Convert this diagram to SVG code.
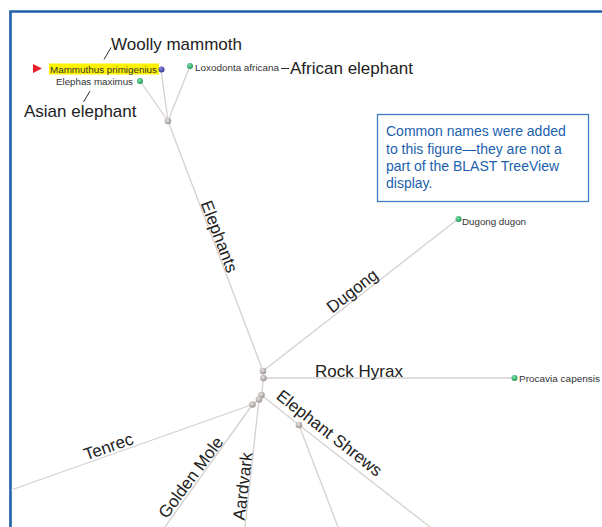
<svg xmlns="http://www.w3.org/2000/svg" width="602" height="527" viewBox="0 0 602 527">
<style>
.edge{stroke:#d6d0ce;stroke-width:1.3;fill:none}
.big{font-family:"Liberation Sans",Arial,sans-serif;font-size:17px;fill:#222}
.leaf{font-family:"Liberation Sans",Arial,sans-serif;font-size:9.7px;fill:#333}
.note{font-family:"Liberation Sans",Arial,sans-serif;font-size:14px;fill:#1b5fae}
.lead{stroke:#333;stroke-width:1}
</style>
<defs>
<radialGradient id="gGray" cx="0.4" cy="0.35" r="0.65"><stop offset="0" stop-color="#e8e4e2"/><stop offset="1" stop-color="#9a9492"/></radialGradient>
<radialGradient id="gGreen" cx="0.4" cy="0.35" r="0.65"><stop offset="0" stop-color="#7fe0a8"/><stop offset="1" stop-color="#1d9a58"/></radialGradient>
<radialGradient id="gBlue" cx="0.4" cy="0.35" r="0.65"><stop offset="0" stop-color="#8a8ae0"/><stop offset="1" stop-color="#333396"/></radialGradient>
</defs>
<rect x="0" y="0" width="602" height="527" fill="#fff"/>
<!-- frame -->
<path d="M10.5 527 V11.5 H602" fill="none" stroke="#1f5fa8" stroke-width="2.6"/>

<!-- connectors -->
<g id="connectors">
<line class="edge" x1="168" y1="121" x2="140" y2="81"/>
<line class="edge" x1="168" y1="121" x2="161" y2="70"/>
<line class="edge" x1="168" y1="121" x2="190" y2="66"/>
<line class="edge" x1="263" y1="371" x2="168" y2="121"/>
<line class="edge" x1="263" y1="371" x2="458" y2="219"/>
<line class="edge" x1="263" y1="371" x2="263.5" y2="378"/>
<line class="edge" x1="263.5" y1="378" x2="514" y2="378"/>
<line class="edge" x1="263.5" y1="378" x2="261.5" y2="395"/>
<line class="edge" x1="261.5" y1="395" x2="299" y2="425"/>
<line class="edge" x1="299" y1="425" x2="430" y2="527"/>
<line class="edge" x1="299" y1="425" x2="338" y2="527"/>
<line class="edge" x1="261.5" y1="395" x2="259" y2="399.5"/>
<line class="edge" x1="259" y1="399.5" x2="245" y2="527"/>
<line class="edge" x1="259" y1="399.5" x2="252.5" y2="404.5"/>
<line class="edge" x1="252.5" y1="404.5" x2="11" y2="490"/>
<line class="edge" x1="252.5" y1="404.5" x2="165" y2="527"/>
</g>

<!-- branch labels -->
<g id="branch-labels">
<text class="big" text-anchor="middle" transform="translate(213,239) rotate(69.2)" dy="-1">Elephants</text>
<text class="big" text-anchor="middle" transform="translate(357,297) rotate(-37.9)" dy="-2">Dugong</text>
<text class="big" text-anchor="middle" x="359" y="377">Rock Hyrax</text>
<text class="big" text-anchor="middle" transform="translate(324,440) rotate(38)" dy="-3">Elephant Shrews</text>
<text class="big" text-anchor="middle" transform="translate(111,454) rotate(-19.4)" dy="-2">Tenrec</text>
<text class="big" text-anchor="middle" transform="translate(197,482) rotate(-53.6)" dy="-2">Golden Mole</text>
<text class="big" text-anchor="middle" transform="translate(249.5,487) rotate(-83.4)" dy="-1">Aardvark</text>
</g>

<!-- internal nodes -->
<g id="node-elephant-clade"><circle cx="168" cy="121" r="3.3" fill="url(#gGray)"/></g>
<g id="node-paenungulata"><circle cx="263" cy="371" r="3.3" fill="url(#gGray)"/></g>
<g id="node-afrotheria-a"><circle cx="263.5" cy="378" r="3.3" fill="url(#gGray)"/></g>
<g id="node-afrotheria-b"><circle cx="261.5" cy="395" r="3.3" fill="url(#gGray)"/></g>
<g id="node-afrotheria-c"><circle cx="259" cy="399.5" r="3.3" fill="url(#gGray)"/></g>
<g id="node-afrotheria-d"><circle cx="252.5" cy="404.5" r="3.3" fill="url(#gGray)"/></g>
<g id="node-elephant-shrews"><circle cx="299" cy="425" r="3.3" fill="url(#gGray)"/></g>

<!-- leaves -->
<g id="leaf-mammuthus">
<polygon points="33,64 42,68.5 33,73" fill="#e8202a"/>
<rect x="49" y="63.5" width="110" height="11" fill="#fff200"/>
<text class="leaf" x="50" y="72.5" textLength="107" lengthAdjust="spacingAndGlyphs">Mammuthus primigenius</text>
<circle cx="161.5" cy="69.5" r="3" fill="url(#gBlue)"/>
</g>
<g id="leaf-elephas">
<text class="leaf" x="56" y="85" textLength="77" lengthAdjust="spacingAndGlyphs">Elephas maximus</text>
<circle cx="140" cy="81" r="3" fill="url(#gGreen)"/>
</g>
<g id="leaf-loxodonta">
<circle cx="190" cy="66" r="3" fill="url(#gGreen)"/>
<text class="leaf" x="195" y="71" textLength="84" lengthAdjust="spacingAndGlyphs">Loxodonta africana</text>
</g>
<g id="leaf-dugong">
<circle cx="458.5" cy="219" r="3" fill="url(#gGreen)"/>
<text class="leaf" x="462" y="225" textLength="64" lengthAdjust="spacingAndGlyphs">Dugong dugon</text>
</g>
<g id="leaf-procavia">
<circle cx="514.5" cy="378" r="3" fill="url(#gGreen)"/>
<text class="leaf" x="519" y="382" textLength="81" lengthAdjust="spacingAndGlyphs">Procavia capensis</text>
</g>

<!-- common name annotations -->
<g id="annotations">
<text class="big" x="111" y="50">Woolly mammoth</text>
<line class="lead" x1="104" y1="59.5" x2="111" y2="47.5"/>
<text class="big" x="24" y="117">Asian elephant</text>
<line class="lead" x1="83.5" y1="102" x2="90" y2="91"/>
<line class="lead" x1="281" y1="68.5" x2="289" y2="68.5"/>
<text class="big" x="290" y="73.5">African elephant</text>
</g>

<g id="note">
<rect x="377.5" y="114.5" width="211" height="87" fill="#fff" stroke="#3d7cc2" stroke-width="1.3"/>
<text class="note" x="386" y="136">Common names were added</text>
<text class="note" x="386" y="153.5">to this figure—they are not a</text>
<text class="note" x="386" y="171">part of the BLAST TreeView</text>
<text class="note" x="386" y="188">display.</text>
</g>
</svg>
